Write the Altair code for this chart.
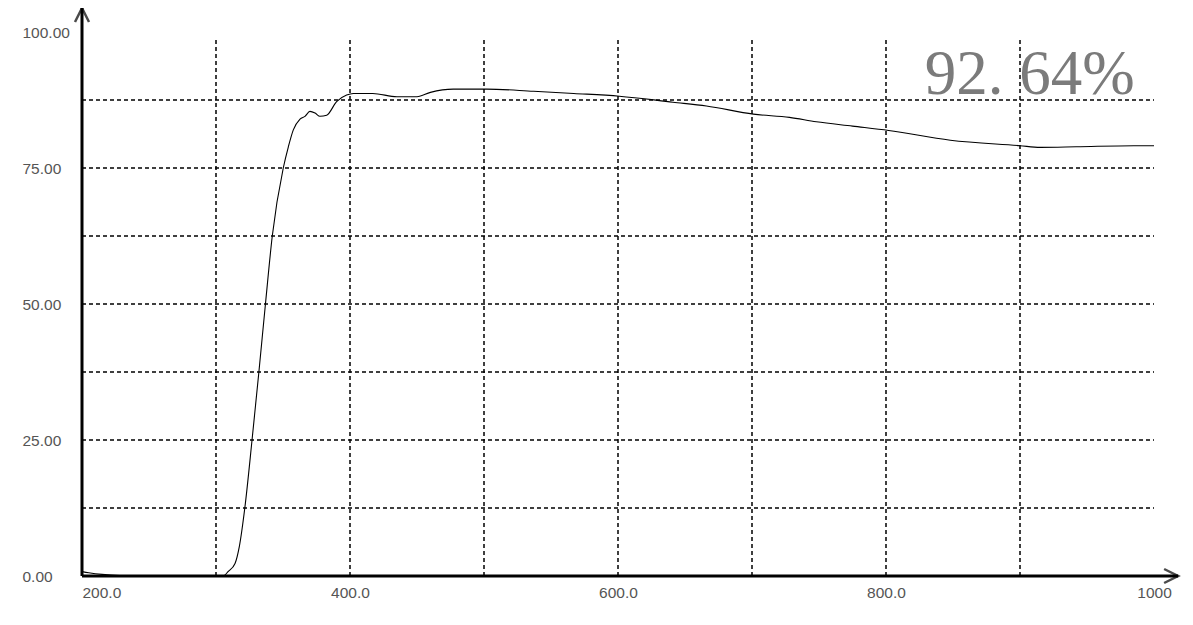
import altair as alt
import pandas as pd

# --- data ---
wavelength = [200, 205, 215, 228, 260, 300, 306, 309, 314.2, 317.4, 321.5, 326.9,
              332.0, 336.9, 342.0, 350.2, 354.0, 357.7, 362.7, 366.4, 370.1, 373.9,
              377.6, 382.6, 390, 397.5, 402.5, 417, 435, 450, 460, 477, 502, 537, 567,
              601, 641, 666, 701, 728, 748, 775, 802, 848, 900, 915, 942, 985, 1000]
transmittance = [0.8, 0.6, 0.3, 0.1, 0.0, 0.0, 0.1, 0.8, 2.3, 5.4, 12.5, 25.0,
                 37.5, 50.0, 62.5, 75.0, 78.9, 82.0, 84.0, 84.5, 85.4, 85.1,
                 84.5, 84.7, 87.2, 88.4, 88.7, 88.7, 88.1, 88.1, 88.9, 89.5, 89.5, 89.1, 88.7,
                 88.2, 87.1, 86.4, 84.9, 84.3, 83.5, 82.7, 81.9, 80.1, 79.1, 78.8, 78.9, 79.1, 79.1]

x_ticks = [200, 400, 600, 800, 1000]
x_tick_labels = ["200.0", "400.0", "600.0", "800.0", "1000"]
y_ticks = [0, 25, 50, 75, 100]

v_grid = [300, 400, 500, 600, 700, 800, 900]
h_grid = [12.5, 25, 37.5, 50, 62.5, 75, 87.5]
grid_top = 99

axis_x_end = 1018
axis_y_end = 104.4

annotation_text = ["92. 64%"]
annotation_x = [829]
annotation_y = [88.6]

# --- scales & axes (shared by every layer) ---
xs = alt.Scale(domain=[200, 1000], nice=False, zero=False)
ys = alt.Scale(domain=[0, 100], nice=False, zero=False)

label_map = "{" + ",".join(f"'{v}':'{t}'" for v, t in zip(x_ticks, x_tick_labels)) + "}"

xa = alt.Axis(
    values=x_ticks, title=None, domain=False, ticks=False, grid=False,
    labelExpr=f"{label_map}[datum.value + '']",
    labelAlign={"condition": {"test": "datum.value == 200", "value": "left"}, "value": "center"},
    labelFontSize=15.5, labelFont="Liberation Sans", labelColor="#555555",
    labelPadding=9)
ya = alt.Axis(
    values=y_ticks, title=None, domain=False, ticks=False, grid=False,
    format=".2f", labelAlign="left", labelPadding=60, labelBaseline="middle",
    labelFontSize=15.5, labelFont="Liberation Sans", labelColor="#555555")


def X(f):
    return alt.X(f, scale=xs, axis=xa, title=None)


def Y(f):
    return alt.Y(f, scale=ys, axis=ya, title=None)


curve_df = pd.DataFrame({"wl": wavelength, "t": transmittance})

line = alt.Chart(curve_df).mark_line(color="black", strokeWidth=1.1, interpolate="monotone").encode(
    x=X("wl:Q"), y=Y("t:Q"))

vgrid = alt.Chart(pd.DataFrame({"x": v_grid, "y0": [0] * len(v_grid), "y1": [grid_top] * len(v_grid)})).mark_rule(
    color="black", strokeWidth=1.5, strokeDash=[4, 3]).encode(
    x=X("x:Q"), y=Y("y0:Q"), y2="y1:Q")

hgrid = alt.Chart(pd.DataFrame({"y": h_grid, "x0": [200] * len(h_grid), "x1": [1000] * len(h_grid)})).mark_rule(
    color="black", strokeWidth=1.5, strokeDash=[4, 3]).encode(
    y=Y("y:Q"), x=X("x0:Q"), x2="x1:Q")

x_axis_line = alt.Chart(pd.DataFrame({"x0": [200], "x1": [axis_x_end], "y": [0]})).mark_rule(
    color="black", strokeWidth=3).encode(x=X("x0:Q"), x2="x1:Q", y=Y("y:Q"))

y_axis_line = alt.Chart(pd.DataFrame({"x": [200], "y0": [0], "y1": [axis_y_end]})).mark_rule(
    color="black", strokeWidth=3).encode(x=X("x:Q"), y=Y("y0:Q"), y2="y1:Q")

up_arrow = alt.Chart(pd.DataFrame({"x": [200], "y": [axis_y_end]})).mark_point(
    shape="M-1,2L0,0L1,2", filled=False, stroke="black", strokeWidth=2.5, size=196).encode(
    x=X("x:Q"), y=Y("y:Q"))

right_arrow = alt.Chart(pd.DataFrame({"x": [axis_x_end], "y": [0]})).mark_point(
    shape="M-2,-1L0,0L-2,1", filled=False, stroke="black", strokeWidth=2.5, size=196).encode(
    x=X("x:Q"), y=Y("y:Q"))

annotation = alt.Chart(pd.DataFrame({"x": annotation_x, "y": annotation_y, "t": annotation_text})).mark_text(
    align="left", baseline="alphabetic", font="Liberation Serif", fontSize=63, color="#7b7b7b").encode(
    x=X("x:Q"), y=Y("y:Q"), text="t:N")

chart = alt.layer(line, vgrid, hgrid, x_axis_line, y_axis_line, up_arrow, right_arrow, annotation).properties(
    width=1072, height=544, autosize="none",
    padding={"left": 74, "top": 24, "right": 30, "bottom": 40},
    background="white",
).configure_view(strokeWidth=0)

chart.save("out.html", embed_options={"renderer": "svg", "actions": False})
